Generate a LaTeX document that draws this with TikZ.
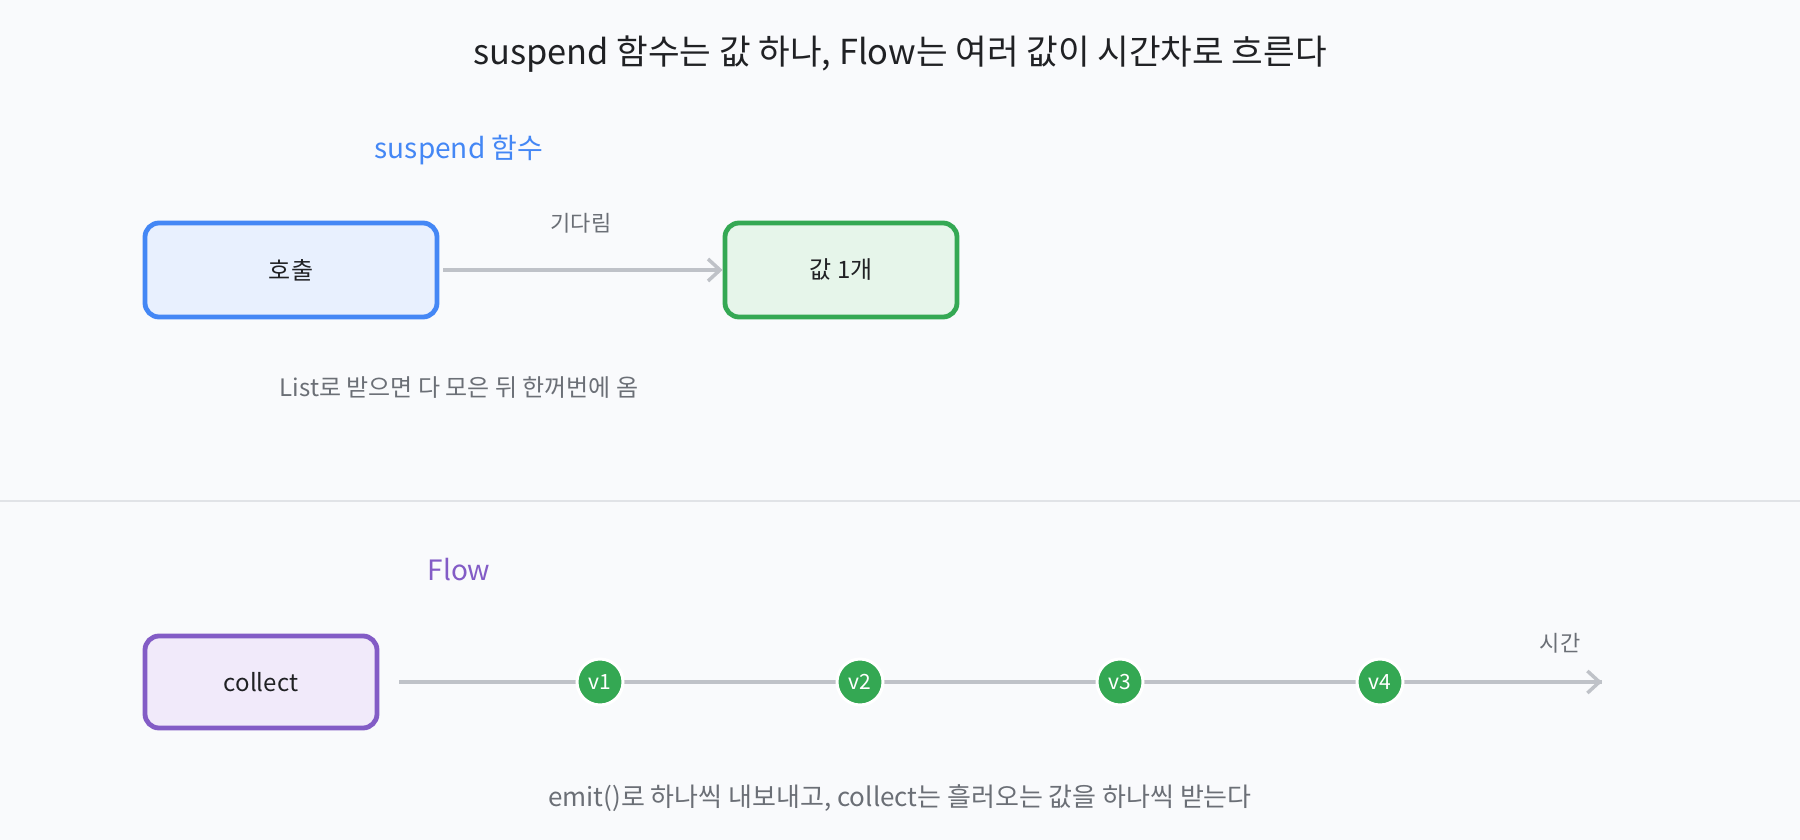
\documentclass[tikz,border=0pt]{standalone}
\usepackage{fontspec}
\setmainfont{Noto Sans CJK KR}
\usetikzlibrary{positioning, arrows.meta}

\definecolor{bgcol}{HTML}{F9FAFC}
\definecolor{inkcol}{HTML}{202124}
\definecolor{greycol}{HTML}{6B6F76}
\definecolor{linecol}{HTML}{BFC2C8}
\definecolor{rulecol}{HTML}{E1E3E7}
\definecolor{bluecol}{HTML}{4487F5}
\definecolor{bluefill}{HTML}{E8F0FE}
\definecolor{greencol}{HTML}{34A853}
\definecolor{greenfill}{HTML}{E6F5EA}
\definecolor{purplecol}{HTML}{835CC6}
\definecolor{purplefill}{HTML}{F1EAFA}

\tikzset{
  box/.style={rounded corners=7pt, line width=2.4pt, minimum height=47pt,
    text=inkcol, font=\fontsize{12}{14}\selectfont},
  section/.style={font=\fontsize{14}{16}\selectfont},
  note/.style={text=greycol, font=\fontsize{12}{14}\selectfont},
  flowline/.style={draw=linecol, line width=1.75pt},
  tip/.style={-{Straight Barb[length=6pt, width=11pt]}},
  dot/.style={circle, fill=greencol, draw=white, line width=1.5pt,
    minimum size=23pt, inner sep=0pt, text=white, font=\fontsize{10.5}{12}\selectfont}
}

\begin{document}
\begin{tikzpicture}[x=0.5pt, y=-0.5pt]
% Background
\fill[bgcol] (0,0) rectangle (1800,840);
\useasboundingbox (0,0) rectangle (1800,840);
% Title
\node[text=inkcol, font=\fontsize{17.2}{20}\selectfont] (title) at (900,54) {suspend 함수는 값 하나, Flow는 여러 값이 시간차로 흐른다};

% suspend part
\node[section, text=bluecol] (suspendlbl) at (459,150) {suspend 함수};
\node[box, draw=bluecol, fill=bluefill, minimum width=146pt] (call) at (291,270) {호출};
\node[box, draw=greencol, fill=greenfill, minimum width=116pt] (value) at (841,270) {값 1개};
\draw[flowline, tip, shorten <=2pt] (call) -- (value) node[midway, above=14pt, note, font=\fontsize{11}{13}\selectfont] (waitlbl) {기다림};
\node[note] (listlbl) at (459,388) {List로 받으면 다 모은 뒤 한꺼번에 옴};

% Divider
\draw[rulecol, line width=1pt] (0,501) -- (1800,501);

% Flow part
\node[section, text=purplecol] (flowlbl) at (459,570) {Flow};
\node[box, draw=purplecol, fill=purplefill, minimum width=116pt, minimum height=46pt] (collect) at (261,682) {collect};
\coordinate (tend) at (1602,682);
\draw[flowline, shorten <=10pt] (collect) -- (tend);
\draw[flowline, tip] ([xshift=-20pt]tend) -- (tend);
\foreach \x/\v in {600/1, 860/2, 1120/3, 1380/4} {
    \node[dot] (v\v) at (\x,682) {v\v};
}
\node[note, font=\fontsize{11}{13}\selectfont] (timelbl) at (1560,643) {시간};
\node[note, font=\fontsize{13}{15}\selectfont] (emitlbl) at (900,798) {emit()로 하나씩 내보내고, collect는 흘러오는 값을 하나씩 받는다};
\end{tikzpicture}
\end{document}
